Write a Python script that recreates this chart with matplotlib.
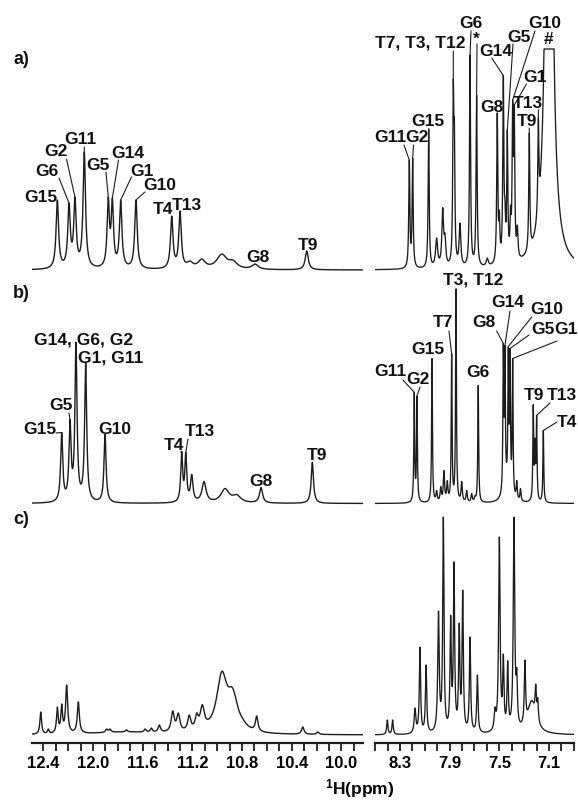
import numpy as np
import matplotlib
matplotlib.use("Agg")
import matplotlib.pyplot as plt

plt.rcParams['font.family'] = ['Liberation Sans', 'DejaVu Sans']
plt.rcParams['font.weight'] = 'bold'
plt.rcParams['mathtext.fontset'] = 'custom'
plt.rcParams['mathtext.rm'] = 'Liberation Sans:bold'
plt.rcParams['mathtext.it'] = 'Liberation Sans:bold'
plt.rcParams['mathtext.bf'] = 'Liberation Sans:bold'

# ---------------- data: peak centre (ppm), apparent height, half width (ppm) ----------------
# panel a, imino region
a_left_ppm = [12.287, 12.193, 12.145, 12.070, 11.877, 11.844, 11.777, 11.654, 11.366, 11.299,
              11.219, 11.125, 10.963, 10.873, 10.695, 10.279]
a_left_h = [70, 67, 73, 118, 73, 72, 70, 70, 54, 59, 9, 11, 16, 10, 6, 19]
a_left_w = [0.012, 0.012, 0.012, 0.012, 0.011, 0.011, 0.012, 0.012, 0.012, 0.012,
            0.03, 0.035, 0.05, 0.04, 0.03, 0.015]
# panel a, aromatic region
a_right_ppm = [8.225, 8.198, 8.069, 8.005, 7.956, 7.938, 7.871, 7.862, 7.817, 7.736, 7.683,
               7.597, 7.517, 7.500, 7.468, 7.455, 7.436, 7.410, 7.393, 7.380, 7.355, 7.259,
               7.186, 7.100, 7.950, 7.440, 7.230]
a_right_h = [110, 112, 141, 32, 72, 40, 190, 150, 47, 215, 175,
             12, 157, 60, 195, 75, 172, 65, 170, 165, 45, 137,
             152, 900, 30, 40, 30]
a_right_w = [0.005, 0.005, 0.005, 0.010, 0.008, 0.008, 0.005, 0.005, 0.008, 0.005, 0.005,
             0.010, 0.005, 0.005, 0.005, 0.005, 0.005, 0.005, 0.005, 0.005, 0.006, 0.005,
             0.005, 0.023, 0.06, 0.05, 0.02]
# panel b, imino region
b_left_ppm = [12.252, 12.185, 12.137, 12.059, 11.903, 11.286, 11.253, 11.205, 11.106,
              10.937, 10.843, 10.647, 10.234]
b_left_h = [71, 84, 161, 141, 69, 52, 51, 29, 22, 15, 9, 16, 41]
b_left_w = [0.010, 0.010, 0.010, 0.010, 0.010, 0.009, 0.009, 0.012, 0.02,
            0.04, 0.04, 0.015, 0.011]
# panel b, aromatic region
b_right_ppm = [8.185, 8.163, 8.042, 8.005, 7.972, 7.946, 7.919, 7.884, 7.849, 7.803, 7.763,
               7.723, 7.696, 7.670, 7.468, 7.455, 7.428, 7.414, 7.393, 7.360, 7.330,
               7.227, 7.213, 7.200, 7.146, 7.440, 7.870, 8.175, 7.215]
b_right_h = [112, 108, 145, 13, 17, 33, 23, 150, 215, 22, 13,
             10, 8, 118, 160, 158, 157, 155, 145, 23, 15,
             100, 90, 88, 73, 42, 14, 20, 25]
b_right_w = [0.004, 0.004, 0.004, 0.006, 0.006, 0.006, 0.006, 0.004, 0.004, 0.006, 0.006,
             0.006, 0.006, 0.004, 0.004, 0.004, 0.004, 0.004, 0.004, 0.005, 0.005,
             0.004, 0.004, 0.004, 0.004, 0.03, 0.08, 0.02, 0.015]
# panel c, imino region
c_left_ppm = [12.421, 12.360, 12.287, 12.252, 12.212, 12.118, 11.890, 11.863, 11.730, 11.580,
              11.530, 11.466, 11.358, 11.313, 11.225, 11.165, 11.120, 10.963, 10.875, 10.792,
              10.682, 10.311, 10.190, 11.100, 11.750]
c_left_h = [23, 6, 28, 31, 50, 33, 6, 6, 5, 6, 7, 10, 24, 22, 20, 22, 33, 64, 47, 16,
            19, 8, 3, 15, 4]
c_left_w = [0.008, 0.008, 0.008, 0.008, 0.010, 0.010, 0.010, 0.010, 0.010, 0.010,
            0.010, 0.012, 0.015, 0.015, 0.015, 0.015, 0.020, 0.050, 0.050, 0.040,
            0.012, 0.012, 0.012, 0.20, 0.30]
# panel c, aromatic region
c_right_ppm = [8.402, 8.359, 8.179, 8.139, 8.090, 7.990, 7.951, 7.892, 7.865, 7.823,
               7.795, 7.736, 7.677, 7.535, 7.500, 7.468, 7.433, 7.382, 7.360, 7.294,
               7.240, 7.207, 7.191, 7.880, 7.430, 8.150, 7.240]
c_right_h = [15, 15, 27, 88, 70, 124, 218, 121, 174, 112,
             145, 98, 60, 28, 198, 81, 98, 218, 67, 75,
             51, 51, 37, 42, 32, 22, 18]
c_right_w = [0.006, 0.006, 0.008, 0.006, 0.006, 0.007, 0.006, 0.006, 0.006, 0.006,
             0.006, 0.006, 0.006, 0.008, 0.007, 0.006, 0.006, 0.007, 0.006, 0.006,
             0.006, 0.006, 0.006, 0.10, 0.07, 0.06, 0.04]

left_ticks = [12.4, 12.0, 11.6, 11.2, 10.8, 10.4, 10.0]
right_ticks = [8.3, 7.9, 7.5, 7.1]
panel_names = ["a)", "b)", "c)"]
x_label = "$^{1}$H(ppm)"

# ---------------- helpers ----------------
W, H = 578, 802


def lorentz_sum(x, centers, heights, widths):
    c = np.asarray(centers, float)
    h = np.asarray(heights, float)
    w = np.asarray(widths, float)
    M = 1.0 / (1.0 + ((c[:, None] - c[None, :]) / w[None, :]) ** 2)
    active = np.ones(len(c), bool)
    amp = np.zeros(len(c))
    for _ in range(30):
        amp = np.zeros(len(c))
        sol = np.linalg.lstsq(M[:, active], h, rcond=None)[0]
        amp[active] = sol
        if (sol >= 0).all():
            break
        idx = np.where(active)[0]
        active[idx[sol < 0]] = False
    return (amp[None, :] / (1.0 + ((x[:, None] - c[None, :]) / w[None, :]) ** 2)).sum(1)


def add_ax(l, t, r, b):
    ax = fig.add_axes([l / W, 1 - b / H, (r - l) / W, (b - t) / H])
    ax.patch.set_visible(False)
    for s in ax.spines.values():
        s.set_visible(False)
    ax.set_yticks([])
    ax.set_xticks([])
    return ax


fig = plt.figure(figsize=(W / 100, H / 100), dpi=100)

LX0, LX1 = 32, 363
RX0, RX1 = 375, 574
left_lim = (12.491, 9.826)
right_lim = (8.501, 6.899)

rows = [
    # top px, bottom px, baseline px
    (0, 275, 270.0),
    (276, 510, 503.5),
    (505, 743, 735.0),
]

xl = np.linspace(left_lim[0], left_lim[1], 6000)
xr = np.linspace(right_lim[0], right_lim[1], 9000)

spectra = [
    (lorentz_sum(xl, a_left_ppm, a_left_h, a_left_w), lorentz_sum(xr, a_right_ppm, a_right_h, a_right_w)),
    (lorentz_sum(xl, b_left_ppm, b_left_h, b_left_w), lorentz_sum(xr, b_right_ppm, b_right_h, b_right_w)),
    (lorentz_sum(xl, c_left_ppm, c_left_h, c_left_w), lorentz_sum(xr, c_right_ppm, c_right_h, c_right_w)),
]
# the truncated solvent peak (#) in panel a
ya_r = spectra[0][1]
spectra[0] = (spectra[0][0], np.where(xr < 7.2, np.minimum(ya_r, 221.0), ya_r))

LC = '#1c1c1c'
axes = []
for i, (t, b, base) in enumerate(rows):
    yl = (-(b - base), base - t)
    axL = add_ax(LX0, t, LX1, b)
    axR = add_ax(RX0, t, RX1, b)
    axL.set_xlim(*left_lim)
    axR.set_xlim(*right_lim)
    axL.set_ylim(*yl)
    axR.set_ylim(*yl)
    axL.plot(xl, spectra[i][0], color=LC, lw=1.0)
    axR.plot(xr, spectra[i][1], color=LC, lw=0.95)
    axes.append((axL, axR))

# bottom axis
for ax, lim, labs in [(axes[2][0], left_lim, left_ticks), (axes[2][1], right_lim, right_ticks)]:
    ax.spines['bottom'].set_visible(True)
    ax.spines['bottom'].set_linewidth(1.6)
    ax.spines['bottom'].set_color(LC)
    minor = np.round(np.arange(12.5, 6.8, -0.1), 1)
    minor = [m for m in minor if min(lim) - 1e-6 <= m <= max(lim) + 1e-6]
    ax.set_xticks(minor, minor=True)
    ax.set_xticks(labs)
    ax.set_xticklabels([f"{v:.1f}" for v in labs], fontsize=12, fontweight='bold')
    ax.tick_params(axis='x', which='both', direction='out', length=5.5, width=1.3,
                   color=LC, pad=4)
    ax.set_xlim(*lim)

fig.text(360 / W, 1 - 789 / H, x_label, ha='center', va='center', fontsize=12.5,
         fontweight='bold')


def ftxt(s, x, y, size=12.5):
    fig.text(x / W, 1 - y / H, s, ha='center', va='center', fontsize=size,
             fontweight='bold', color='#111111')


def leader(ax, xs, ys, xgrid, ygrid, ppm):
    yv = float(np.interp(ppm, xgrid[::-1], ygrid[::-1]))
    ax.annotate('', xy=(ppm, yv), xycoords='data', xytext=(xs, H - ys),
                textcoords='figure pixels',
                arrowprops=dict(arrowstyle='-', lw=0.8, color=LC, shrinkA=0, shrinkB=0))


for name, y in zip(panel_names, [60, 294, 520]):
    ftxt(name, 21, y, 13)

# ----- labels -----
labels_a_left = [
    ("G15", 41, 197, None), ("G6", 47, 172, (59, 178, 12.193)), ("G2", 56, 152, (66.5, 159, 12.145)),
    ("G11", 80, 140, (84.3, 147, 12.070)), ("G5", 98, 165, (106, 172, 11.877)),
    ("G14", 128, 153, (118.5, 160, 11.844)), ("G1", 142, 171, (131.5, 177, 11.777)),
    ("G10", 160, 186, (145, 192, 11.654)), ("T4", 163, 209, None), ("T13", 187, 205, None),
    ("G8", 258, 257, None), ("T9", 308, 246, None),
]
labels_a_right = [
    ("T7, T3, T12", 420, 43, (453.3, 51, 7.871)), ("G6", 471, 23, (471, 31, 7.736)),
    ("*", 476.5, 39, (477, 44, 7.683)), ("G14", 496, 51, (491.7, 58, 7.468)),
    ("G5", 519, 37, (513, 44, 7.436)), ("G10", 545, 23, (535, 31, 7.393)),
    ("G1", 535, 78, (526.5, 84, 7.380)), ("G8", 492, 107, (497.3, 114, 7.517)),
    ("T13", 528, 103, (538.4, 110, 7.186)), ("T9", 527, 121, (529.3, 128, 7.259)),
    ("G15", 428, 122, (428.7, 129, 8.069)), ("G11", 390, 137, (404, 145, 8.225)),
    ("G2", 417, 137, (413.5, 145, 8.198)), ("#", 549, 40, None),
]
labels_b_left = [
    ("G14, G6, G2", 84, 340, None), ("G1, G11", 111, 358, None),
    ("G5", 61, 406, (69, 413, 12.185)), ("G15", 40, 430, (56, 433, 12.252)),
    ("G10", 115, 430, None), ("T4", 174, 446, (180.5, 452, 11.286)),
    ("T13", 200, 432, (188, 439, 11.253)), ("G8", 261, 481, None), ("T9", 317, 456, None),
]
labels_b_right = [
    ("T3, T12", 473, 280, None), ("T7", 443, 323, (449, 331, 7.884)), ("G15", 428, 350, None),
    ("G11", 390, 372, (403, 380, 8.185)), ("G2", 418, 380, (420, 387, 8.163)),
    ("G6", 478, 373, None), ("G8", 484, 323, (496.7, 331, 7.468)),
    ("G14", 508, 303, (510, 311, 7.455)), ("G10", 547, 310, (531.7, 317, 7.428)),
    ("G5", 543, 330, (529, 335, 7.414)), ("G1", 566, 330, (557, 341, 7.393)),
    ("T9", 534, 396, None), ("T13", 562, 396, (550, 403, 7.200)),
    ("T4", 567, 423, (557, 422, 7.146)),
]

for (labs, ax, xg, yg) in [
    (labels_a_left, axes[0][0], xl, spectra[0][0]),
    (labels_a_right, axes[0][1], xr, spectra[0][1]),
    (labels_b_left, axes[1][0], xl, spectra[1][0]),
    (labels_b_right, axes[1][1], xr, spectra[1][1]),
]:
    for s, x, y, ld in labs:
        ftxt(s, x, y)
        if ld is not None:
            leader(ax, ld[0], ld[1], xg, yg, ld[2])

fig.savefig("out.png", dpi=100)
